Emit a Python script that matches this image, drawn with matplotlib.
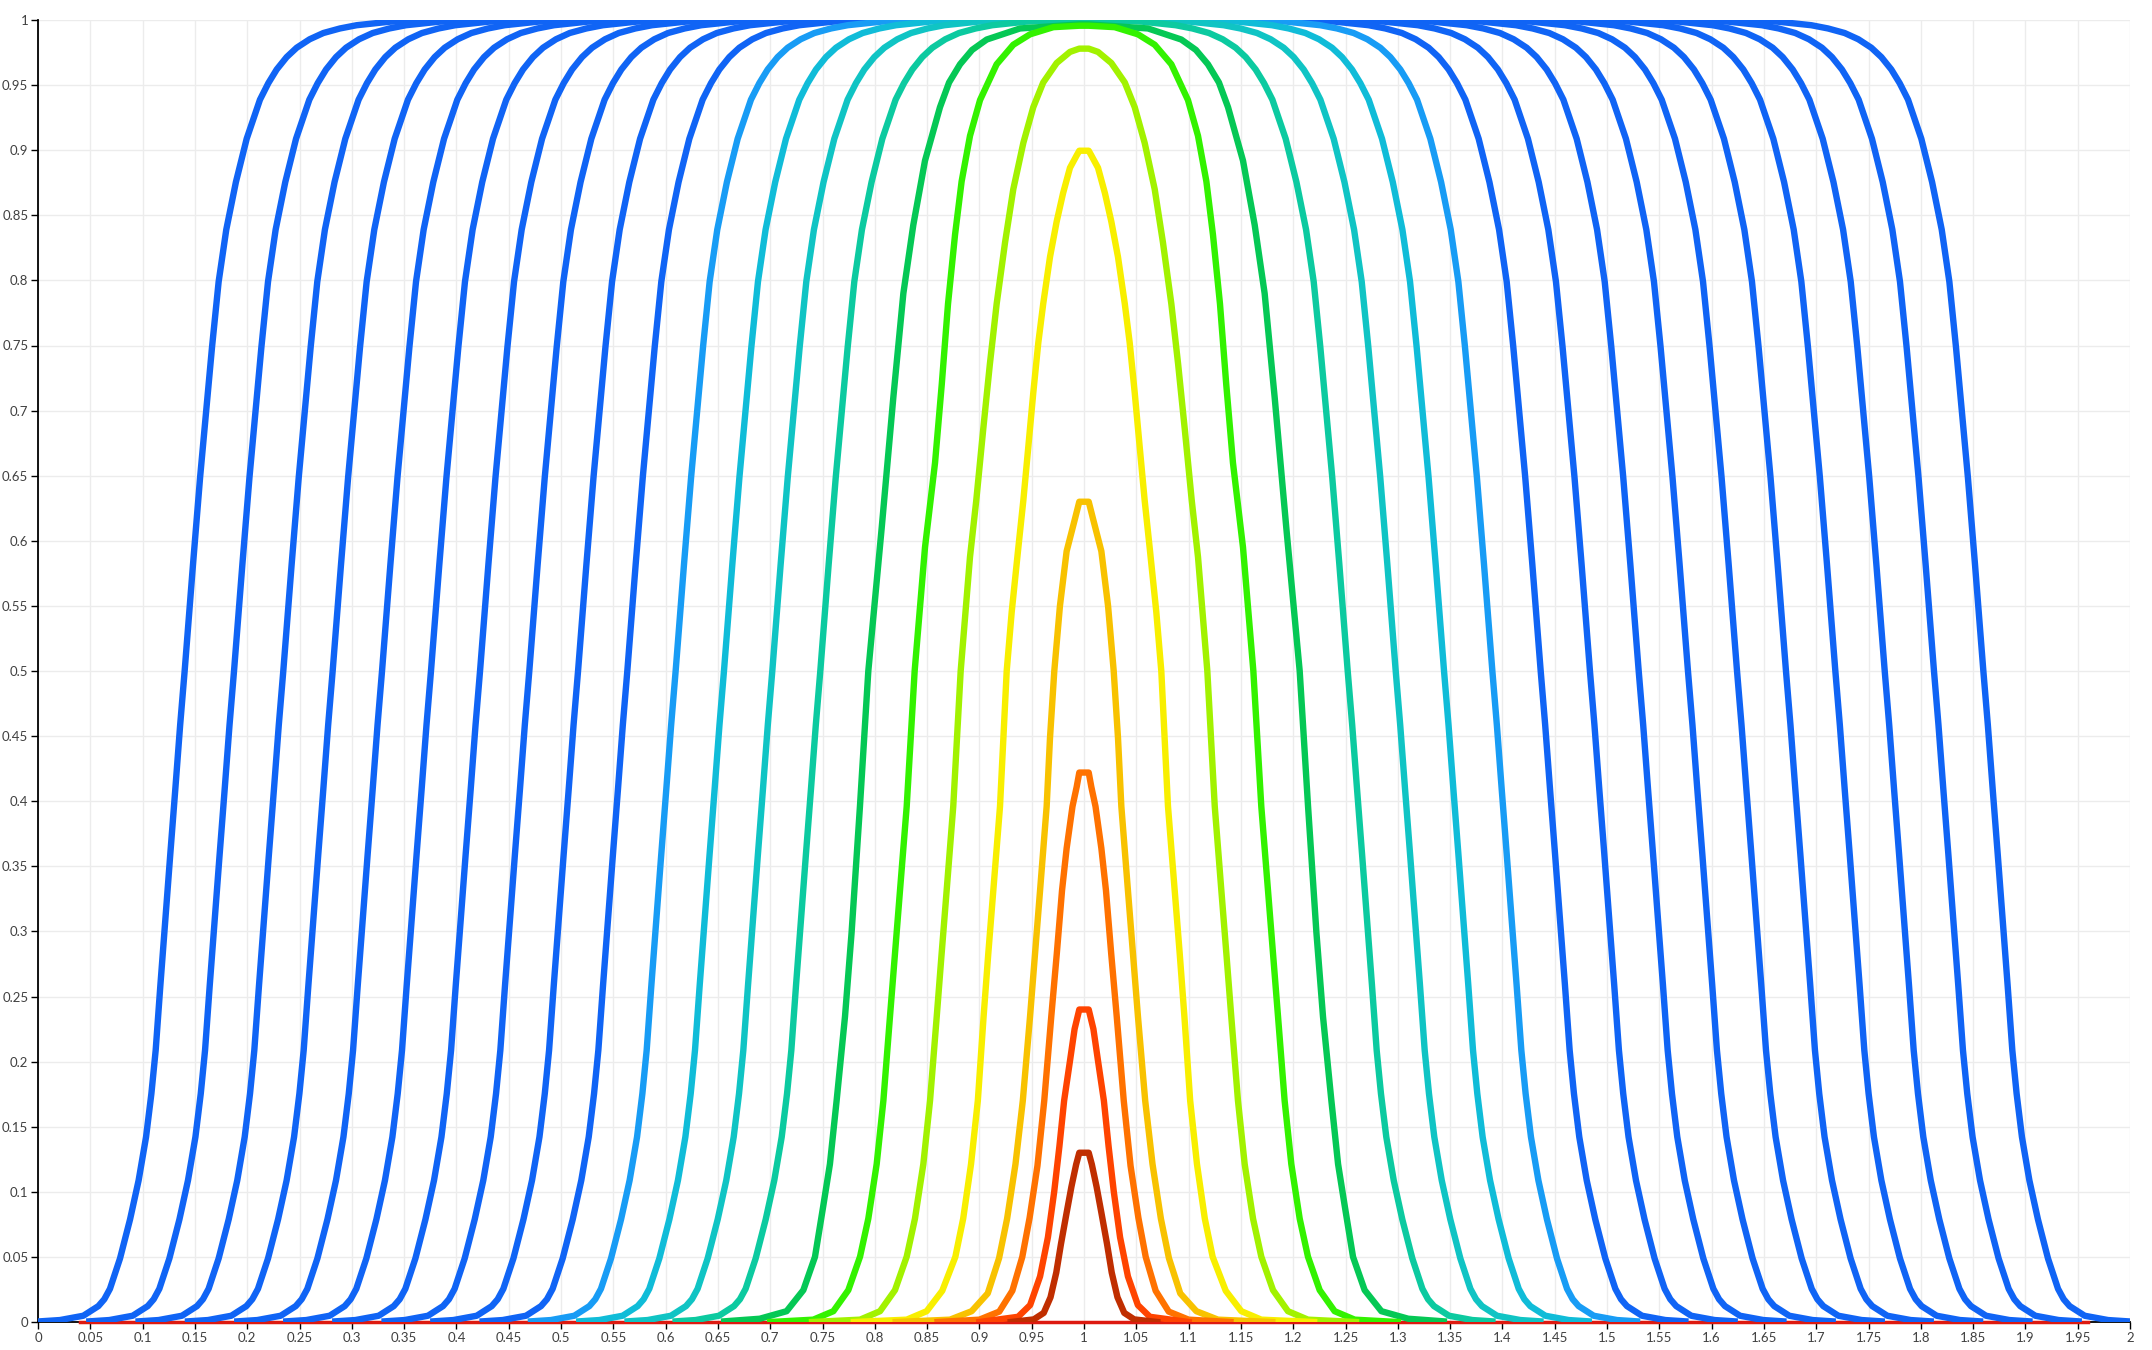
import numpy as np
import matplotlib
matplotlib.use("Agg")
import matplotlib.pyplot as plt

# rising edge shared by all the wide curves, as offsets from the y=0.5 crossing
edge_dx = [-0.1383, -0.1192, -0.0969, -0.0825, -0.0768, -0.0714, -0.0618, -0.0522,
           -0.0440, -0.0369, -0.0318, -0.0277, -0.0232, -0.0185, -0.0138, -0.0090,
           -0.0043, 0.0, 0.0080, 0.0148, 0.0205, 0.0262, 0.0325, 0.0398, 0.0490,
           0.0593, 0.0720, 0.0800, 0.0880, 0.0975, 0.1071, 0.1195, 0.1326, 0.1485,
           0.1645, 0.1963, 0.2282]
edge_y = [0.0005, 0.0015, 0.0048, 0.0122, 0.0175, 0.0255, 0.0488, 0.0788,
          0.1088, 0.1421, 0.1754, 0.2087, 0.2587, 0.3086, 0.3586, 0.4085,
          0.4585, 0.5, 0.582, 0.649, 0.699, 0.749, 0.799, 0.839, 0.8755,
          0.9088, 0.9388, 0.9515, 0.962, 0.9715, 0.9787, 0.9852, 0.990, 0.9935,
          0.996, 0.9987, 1.0]

# left-side 0.5 crossings of the wide curves (every curve is symmetric about x=1)
wide_mid = [0.1402, 0.1874, 0.2345, 0.2817, 0.3289, 0.3757, 0.4226, 0.4697,
            0.5163, 0.5634, 0.6096, 0.6558, 0.7020, 0.7479]
wide_colors = ['#1064f5'] * 10 + ['#189cf5', '#10bcd8', '#10c4c4', '#0ccaa0']

# narrower curves, left half only (up to the centre x=1)
green_x = [0.656, 0.690, 0.7157, 0.7317, 0.7428, 0.7507, 0.7571, 0.7635, 0.7715,
           0.7778, 0.7858, 0.7938, 0.8066, 0.8177, 0.8273, 0.8368, 0.848, 0.8623,
           0.871, 0.8815, 0.893, 0.907, 0.9388, 0.9955, 1.0]
green_y = [0.0005, 0.0025, 0.0083, 0.0245, 0.050, 0.089, 0.1213, 0.170, 0.2345,
           0.299, 0.396, 0.5, 0.61, 0.71, 0.79, 0.8425, 0.892, 0.933,
           0.952, 0.966, 0.977, 0.985, 0.9935, 0.9966, 0.9966]

bgreen_x = [0.700, 0.7412, 0.7604, 0.7747, 0.7859, 0.7938, 0.8018, 0.8082, 0.8145,
            0.8193, 0.8241, 0.8305, 0.8381, 0.848, 0.8576, 0.864, 0.870, 0.8767,
            0.883, 0.891, 0.9006, 0.9165, 0.9324, 0.9484, 0.9707, 0.9955, 1.0]
bgreen_y = [0.0, 0.0018, 0.0083, 0.0245, 0.0502, 0.0794, 0.1213, 0.170, 0.2345,
            0.283, 0.3315, 0.396, 0.5, 0.595, 0.66, 0.72, 0.782, 0.835,
            0.876, 0.911, 0.9385, 0.966, 0.981, 0.989, 0.9945, 0.9956, 0.9956]

ygreen_x = [0.740, 0.7859, 0.805, 0.8193, 0.8305, 0.8384, 0.8464, 0.8528, 0.8592,
            0.8639, 0.8687, 0.875, 0.8821, 0.891, 0.897, 0.9037, 0.910, 0.9165,
            0.9245, 0.9324, 0.942, 0.9515, 0.961, 0.9739, 0.9866, 0.9955, 1.0]
ygreen_y = [0.0, 0.0018, 0.0083, 0.0245, 0.0502, 0.0794, 0.1213, 0.170, 0.2345,
            0.283, 0.3315, 0.396, 0.5, 0.5875, 0.631, 0.686, 0.7356, 0.782,
            0.829, 0.870, 0.9056, 0.933, 0.952, 0.967, 0.9755, 0.978, 0.978]

yellow_x = [0.780, 0.8305, 0.8496, 0.8645, 0.877, 0.8845, 0.892, 0.8985, 0.904,
            0.9085, 0.9133, 0.9197, 0.9261, 0.9309, 0.937, 0.942, 0.9468, 0.9515,
            0.9563, 0.961, 0.9675, 0.9739, 0.980, 0.9866, 0.993, 0.9955, 1.0]
yellow_y = [0.0, 0.0018, 0.0083, 0.024, 0.050, 0.0794, 0.1213, 0.170, 0.2345,
            0.283, 0.3315, 0.396, 0.5, 0.5455, 0.593, 0.631, 0.6725, 0.7136,
            0.752, 0.782, 0.818, 0.8453, 0.867, 0.8865, 0.896, 0.8996, 0.8996]

amber_x = [0.820, 0.8719, 0.8926, 0.908, 0.9188, 0.9265, 0.9345, 0.9415, 0.9484,
           0.9532, 0.958, 0.9643, 0.9675, 0.9716, 0.977, 0.9834, 0.9914, 0.9955, 1.0]
amber_y = [0.0, 0.0018, 0.0083, 0.022, 0.049, 0.0794, 0.1213, 0.170, 0.2345,
           0.283, 0.3315, 0.396, 0.4487, 0.5, 0.550, 0.592, 0.617, 0.630, 0.630]

orange_x = [0.860, 0.900, 0.919, 0.9315, 0.941, 0.948, 0.9555, 0.962, 0.9687,
            0.974, 0.979, 0.9834, 0.989, 0.993, 0.9955, 1.0]
orange_y = [0.0, 0.0018, 0.008, 0.024, 0.050, 0.080, 0.120, 0.170, 0.2345,
            0.283, 0.3315, 0.3638, 0.396, 0.411, 0.422, 0.422]

redor_x = [0.900, 0.937, 0.9485, 0.958, 0.9655, 0.9715, 0.9765, 0.981, 0.9865,
           0.991, 0.9955, 1.0]
redor_y = [0.0, 0.004, 0.013, 0.035, 0.065, 0.100, 0.135, 0.170, 0.200,
           0.225, 0.240, 0.240]

dred_x = [0.930, 0.952, 0.9615, 0.968, 0.9735, 0.978, 0.9834, 0.988, 0.9925, 0.9955, 1.0]
dred_y = [0.0, 0.002, 0.007, 0.019, 0.038, 0.060, 0.084, 0.104, 0.121, 0.130, 0.130]

inner_curves = [
    (green_x, green_y, '#05c855'),
    (bgreen_x, bgreen_y, '#33f200'),
    (ygreen_x, ygreen_y, '#a2f200'),
    (yellow_x, yellow_y, '#f8ef00'),
    (amber_x, amber_y, '#f8c200'),
    (orange_x, orange_y, '#ff7200'),
    (redor_x, redor_y, '#ff4400'),
    (dred_x, dred_y, '#c02e00'),
]

# thin red line lying on the x axis
base_x = [0.04, 1.96]
base_y = [0.0, 0.0]

x_ticks = np.round(np.arange(0, 2.0001, 0.05), 2)
y_ticks = np.round(np.arange(0, 1.0001, 0.05), 2)


def mirror(x, y):
    x = np.asarray(x, dtype=float)
    y = np.asarray(y, dtype=float)
    return np.concatenate([x, 2 - x[::-1]]), np.concatenate([y, y[::-1]])


fig = plt.figure(figsize=(21.52, 13.5), dpi=100)
ax = fig.add_axes([38 / 2152, 28 / 1350, 2092 / 2152, 1302 / 1350])

lw = 4.6
ax.plot(base_x, base_y, color='#dd1a10', lw=2.5, clip_on=False, zorder=3)

for mid, col in zip(wide_mid, wide_colors):
    xs, ys = mirror(mid + np.asarray(edge_dx), edge_y)
    ax.plot(xs, ys, color=col, lw=lw, solid_joinstyle='round', zorder=4)

for xs, ys, col in inner_curves:
    xs, ys = mirror(xs, ys)
    ax.plot(xs, ys, color=col, lw=lw, solid_joinstyle='round', zorder=4)

ax.set_xlim(0, 2)
ax.set_ylim(0, 1)
ax.set_xticks(x_ticks)
ax.set_xticklabels([f'{v:g}' for v in x_ticks])
ax.set_yticks(y_ticks)
ax.set_yticklabels([f'{v:g}' for v in y_ticks])

ax.grid(True, color='#ececec', lw=1.0)
ax.set_axisbelow(True)
for side in ('top', 'right'):
    ax.spines[side].set_visible(False)
for side in ('left', 'bottom'):
    ax.spines[side].set_color('black')
    ax.spines[side].set_linewidth(1.3)

ax.tick_params(direction='out', length=5, width=1, color='black',
               labelsize=9.5, labelcolor='#404040', pad=2)
for lab in ax.get_xticklabels() + ax.get_yticklabels():
    lab.set_family('Lato')

fig.savefig('out.png', dpi=100)
